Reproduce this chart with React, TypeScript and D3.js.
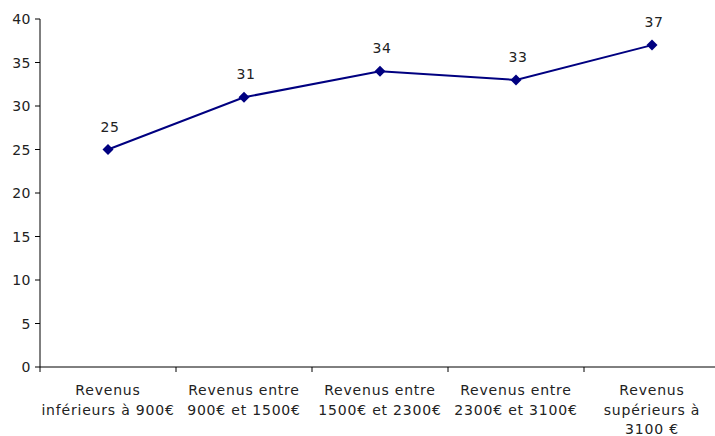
import React from "react";
import * as d3 from "d3";

const categories: string[][] = [
  ["Revenus", "inférieurs à 900€"],
  ["Revenus entre", "900€ et 1500€"],
  ["Revenus entre", "1500€ et 2300€"],
  ["Revenus entre", "2300€ et 3100€"],
  ["Revenus", "supérieurs à", "3100 €"],
];
const values: number[] = [25, 31, 34, 33, 37];
const yTicks: number[] = [0, 5, 10, 15, 20, 25, 30, 35, 40];

const W = 715;
const H = 436;
const left = 40;
const right = 720;
const top = 19;
const bottom = 367;
const font = "'DejaVu Sans', Verdana, sans-serif";

export default function App() {
  const x = d3
    .scaleBand<number>()
    .domain(categories.map((_, i) => i))
    .range([left, right]);
  const y = d3.scaleLinear().domain([0, 40]).range([bottom, top]);
  const line = d3
    .line<number>()
    .x((_, i) => (x(i) as number) + x.bandwidth() / 2)
    .y((d) => y(d));
  const boundaries = d3.range(categories.length + 1).map((i) => left + i * x.step());

  return (
    <svg
      width={W}
      height={H}
      style={{ position: "absolute", left: 0, top: 0, background: "#fff" }}
      fontFamily={font}
    >
      {/* y axis */}
      <line x1={left} x2={left} y1={top} y2={bottom} stroke="#000" strokeWidth={1} />
      {yTicks.map((t) => (
        <g key={t}>
          <line x1={left - 5} x2={left} y1={y(t)} y2={y(t)} stroke="#000" />
          <text
            x={left - 9}
            y={y(t)}
            dy="0.36em"
            textAnchor="end"
            fontSize={14}
            letterSpacing={0.5}
            fill="#222"
          >
            {t}
          </text>
        </g>
      ))}
      {/* x axis */}
      <line x1={left} x2={right} y1={bottom} y2={bottom} stroke="#000" />
      {boundaries.map((b, i) => (
        <line key={i} x1={b} x2={b} y1={bottom} y2={bottom + 5} stroke="#000" />
      ))}
      {categories.map((lines, i) => (
        <text
          key={i}
          textAnchor="middle"
          fontSize={14}
          letterSpacing={0.8}
          fill="#222"
        >
          {lines.map((l, j) => (
            <tspan key={j} x={(x(i) as number) + x.bandwidth() / 2} y={395 + j * 19.5}>
              {l}
            </tspan>
          ))}
        </text>
      ))}
      {/* line */}
      <path d={line(values) || ""} fill="none" stroke="#000080" strokeWidth={2} />
      {values.map((v, i) => {
        const cx = (x(i) as number) + x.bandwidth() / 2;
        const cy = y(v);
        const s = 5.5;
        return (
          <g key={i}>
            <path
              d={`M${cx},${cy - s}L${cx + s},${cy}L${cx},${cy + s}L${cx - s},${cy}Z`}
              fill="#000080"
            />
            <text
              x={cx + 2}
              y={cy - 18}
              textAnchor="middle"
              fontSize={14}
              letterSpacing={0.5}
              fill="#222"
            >
              {v}
            </text>
          </g>
        );
      })}
    </svg>
  );
}
